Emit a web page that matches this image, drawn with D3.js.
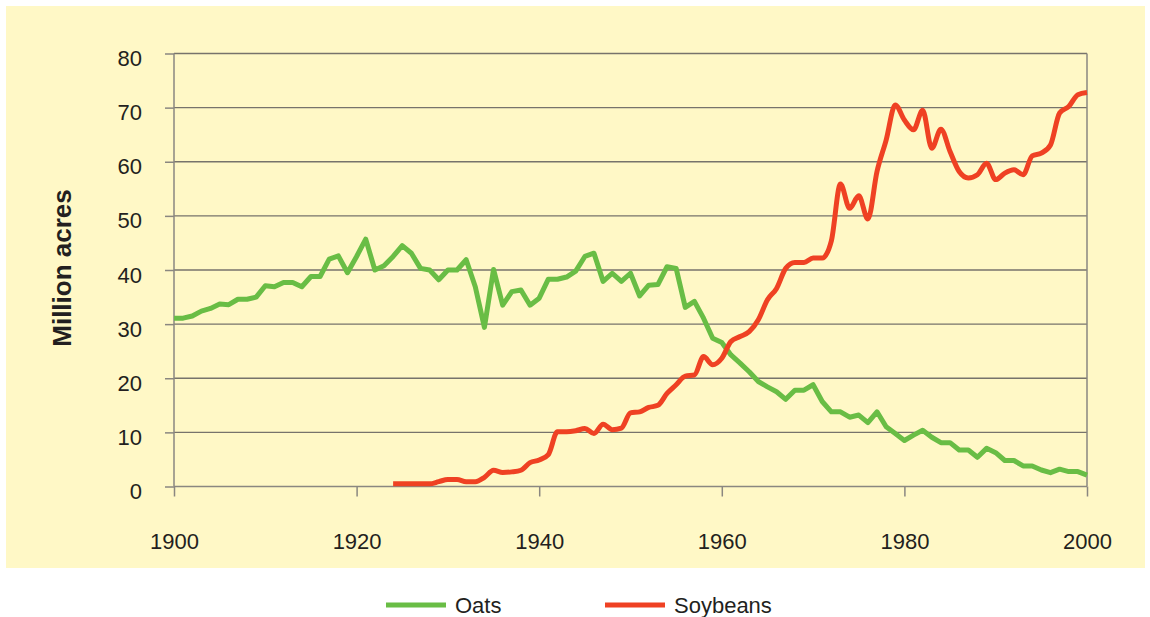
<!DOCTYPE html>
<html>
<head>
<meta charset="utf-8">
<script src="https://cdn.jsdelivr.net/npm/d3@7"></script>
<style>
  body { margin: 0; background: #fff; }
  svg { display: block; font-family: "Liberation Sans", Arial, sans-serif; }
</style>
</head>
<body>
<div id="chart"></div>
<script>
// data (million acres)
const oatsYears = d3.range(1900, 2001);
const oatsValues = [
  31.1, 31.1, 31.5, 32.4, 32.9, 33.7, 33.6, 34.6, 34.6, 35.0,
  37.1, 36.9, 37.7, 37.7, 36.9, 38.8, 38.8, 42.0, 42.6, 39.5,
  42.5, 45.7, 40.0, 40.8, 42.5, 44.5, 43.1, 40.3, 40.0, 38.2,
  40.0, 40.0, 41.9, 36.9, 29.4, 40.1, 33.5, 36.0, 36.3, 33.5,
  34.8, 38.3, 38.3, 38.7, 39.8, 42.5, 43.1, 37.9, 39.4, 37.9,
  39.4, 35.2, 37.2, 37.3, 40.6, 40.3, 33.1, 34.2, 31.1, 27.4,
  26.6, 24.3, 22.8, 21.2, 19.4, 18.4, 17.5, 16.1, 17.8, 17.8,
  18.8, 15.7, 13.8, 13.8, 12.8, 13.2, 11.8, 13.8, 11.05, 9.8,
  8.5, 9.5, 10.4, 9.1, 8.1, 8.1, 6.75, 6.75, 5.4, 7.05,
  6.25, 4.8, 4.8, 3.8, 3.8, 3.05, 2.55, 3.2, 2.75, 2.75,
  2.1
];
const soyYears = d3.range(1924, 2001);
const soyValues = [
  0.5, 0.5, 0.5, 0.5, 0.5, 0.9,
  1.3, 1.3, 0.9, 0.9, 1.7, 3.0, 2.6, 2.7, 3.0, 4.4,
  4.9, 5.9, 10.1, 10.1, 10.3, 10.7, 9.8, 11.5, 10.5, 10.8,
  13.6, 13.8, 14.6, 15.0, 17.2, 18.8, 20.4, 20.6, 24.0, 22.5,
  23.7, 26.8, 27.7, 28.6, 30.8, 34.5, 36.6, 40.3, 41.4, 41.4,
  42.2, 42.2, 45.4, 55.9, 51.4, 53.7, 49.4, 58.2, 64.0, 70.5,
  67.7, 65.9, 69.5, 62.5, 66.0, 61.9, 58.2, 57.0, 57.6, 59.7,
  56.7, 57.9, 58.5, 57.6, 61.1, 61.6, 63.1, 69.0, 70.2, 72.4,
  72.8
];
const xTicks = [1900, 1920, 1940, 1960, 1980, 2000];
const yTicks = [0, 10, 20, 30, 40, 50, 60, 70, 80];
const seriesNames = ["Oats", "Soybeans"];
const seriesColors = ["#69bd45", "#ef4123"];

const W = 1150, H = 617;
const plot = { left: 174, right: 1087, top: 53.5, bottom: 486.5 };

const svg = d3.select("#chart").append("svg")
  .attr("width", W).attr("height", H);

// pale yellow panel
svg.append("rect")
  .attr("x", 6).attr("y", 6)
  .attr("width", 1139).attr("height", 562)
  .attr("fill", "#fff8c6");

const x = d3.scaleLinear().domain([1900, 2000]).range([plot.left, plot.right]);
const y = d3.scaleLinear().domain([0, 80]).range([plot.bottom, plot.top]);

// gridlines
svg.append("g")
  .selectAll("line")
  .data(yTicks.filter(d => d > 0))
  .enter()
  .append("line")
  .attr("x1", plot.left).attr("x2", plot.right)
  .attr("y1", d => y(d)).attr("y2", d => y(d))
  .attr("stroke", "#77736b")
  .attr("stroke-width", 1.3);

// right border of plot area
svg.append("line")
  .attr("x1", plot.right).attr("x2", plot.right)
  .attr("y1", plot.top).attr("y2", plot.bottom)
  .attr("stroke", "#8a8780").attr("stroke-width", 1.5);

// axes
const xAxis = d3.axisBottom(x).tickValues(xTicks).tickFormat(d3.format("d"))
  .tickSize(10).tickPadding(37);
const yAxis = d3.axisLeft(y).tickValues(yTicks).tickSize(9).tickPadding(23);

const gx = svg.append("g")
  .attr("transform", `translate(0,${plot.bottom})`)
  .call(xAxis);
const gy = svg.append("g")
  .attr("transform", `translate(${plot.left},0)`)
  .call(yAxis);

[gx, gy].forEach(g => {
  g.select(".domain").attr("stroke", "#8a8780").attr("stroke-width", 1.5);
  g.selectAll(".tick line").attr("stroke", "#8a8780").attr("stroke-width", 1.5);
  g.selectAll(".tick text")
    .attr("fill", "#231f20")
    .style("font-size", "22px")
    .style("font-family", "'Liberation Sans', Arial, sans-serif");
});
gx.select(".domain").attr("d", `M${plot.left},0H${plot.right}`);
gy.select(".domain").attr("d", `M0,${plot.top}V${plot.bottom}`);
gy.selectAll(".tick text").attr("dy", "0.55em");

// y axis title
svg.append("text")
  .attr("transform", `translate(71,268) rotate(-90)`)
  .attr("text-anchor", "middle")
  .style("font-size", "26px")
  .style("font-weight", "bold")
  .attr("fill", "#231f20")
  .text("Million acres");

// lines
const lineFn = d3.line()
  .x(d => x(d[0]))
  .y(d => y(d[1]));

const oatsData = oatsYears.map((yr, i) => [yr, oatsValues[i]]);
const soyData = soyYears.map((yr, i) => [yr, soyValues[i]]);

svg.append("path")
  .datum(oatsData)
  .attr("d", lineFn)
  .attr("fill", "none")
  .attr("stroke", seriesColors[0])
  .attr("stroke-width", 5)
  .attr("stroke-linejoin", "round");

svg.append("path")
  .datum(soyData)
  .attr("d", lineFn.curve(d3.curveMonotoneX))
  .attr("fill", "none")
  .attr("stroke", seriesColors[1])
  .attr("stroke-width", 5)
  .attr("stroke-linejoin", "round");

// legend
const legendX = [386, 605];
const legend = svg.append("g");
seriesNames.forEach((name, i) => {
  legend.append("line")
    .attr("x1", legendX[i]).attr("x2", legendX[i] + 60)
    .attr("y1", 605).attr("y2", 605)
    .attr("stroke", seriesColors[i])
    .attr("stroke-width", 5);
  legend.append("text")
    .attr("x", legendX[i] + 69).attr("y", 613)
    .style("font-size", "22px")
    .attr("fill", "#231f20")
    .text(name);
});
</script>
</body>
</html>
